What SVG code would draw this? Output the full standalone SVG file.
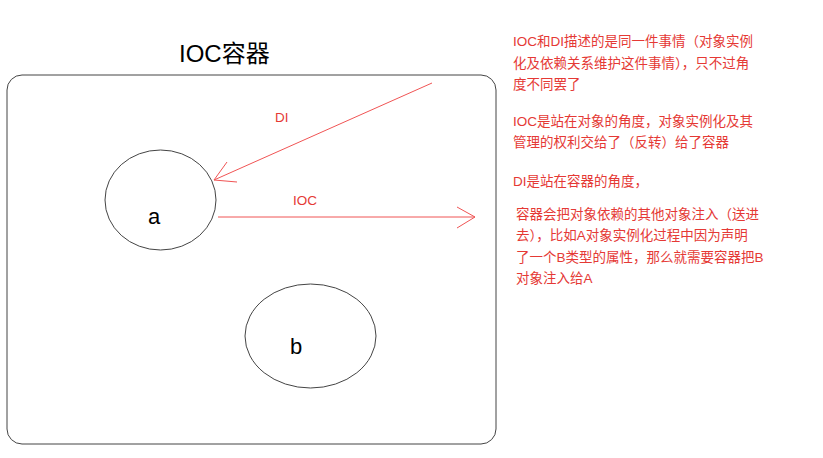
<svg xmlns="http://www.w3.org/2000/svg" width="823" height="458" viewBox="0 0 823 458">
<style>
.node{fill:none;stroke:#444;stroke-width:1}
.lbl{font-family:"Liberation Sans","Noto Sans CJK SC",sans-serif;fill:#000}
.red{font-family:"Liberation Sans","Noto Sans CJK SC",sans-serif;fill:#e53935;font-size:13.5px}
.conn{fill:none;stroke:#f05454;stroke-width:1}
</style>
<rect width="823" height="458" fill="#fff"/>
<g id="container">
<rect class="node" x="7" y="75" width="489" height="369" rx="15" ry="15"/>
<text class="lbl" x="179" y="62" font-size="24">IOC容器</text>
</g>
<g id="node-a">
<ellipse class="node" cx="160.5" cy="200" rx="55.5" ry="50"/>
<text class="lbl" x="153" y="224" font-size="22" text-anchor="middle" dx="1">a</text>
</g>
<g id="node-b">
<ellipse class="node" cx="310.5" cy="336" rx="65.5" ry="52"/>
<text class="lbl" x="296" y="354" font-size="22" text-anchor="middle">b</text>
</g>
<g id="connectors">
<g id="di-arrow">
<path class="conn" d="M432 83 L214 180"/>
<path class="conn" d="M227 162 L214 180 L237 182"/>
<text class="red" x="275" y="122">DI</text>
</g>
<g id="ioc-arrow">
<path class="conn" d="M218 217 L475 217"/>
<path class="conn" d="M457 207 L475 217 L457 228"/>
<text class="red" x="293" y="205">IOC</text>
</g>
</g>
<g id="notes">
<text class="red" x="513" y="46">IOC和DI描述的是同一件事情（对象实例</text>
<text class="red" x="513" y="68">化及依赖关系维护这件事情），只不过角</text>
<text class="red" x="513" y="89">度不同罢了</text>
<text class="red" x="513" y="126">IOC是站在对象的角度，对象实例化及其</text>
<text class="red" x="513" y="147">管理的权利交给了（反转）给了容器</text>
<text class="red" x="513" y="186">DI是站在容器的角度，</text>
<text class="red" x="516" y="219">容器会把对象依赖的其他对象注入（送进</text>
<text class="red" x="516" y="240">去），比如A对象实例化过程中因为声明</text>
<text class="red" x="516" y="262">了一个B类型的属性，那么就需要容器把B</text>
<text class="red" x="516" y="283">对象注入给A</text>
</g>
</svg>
